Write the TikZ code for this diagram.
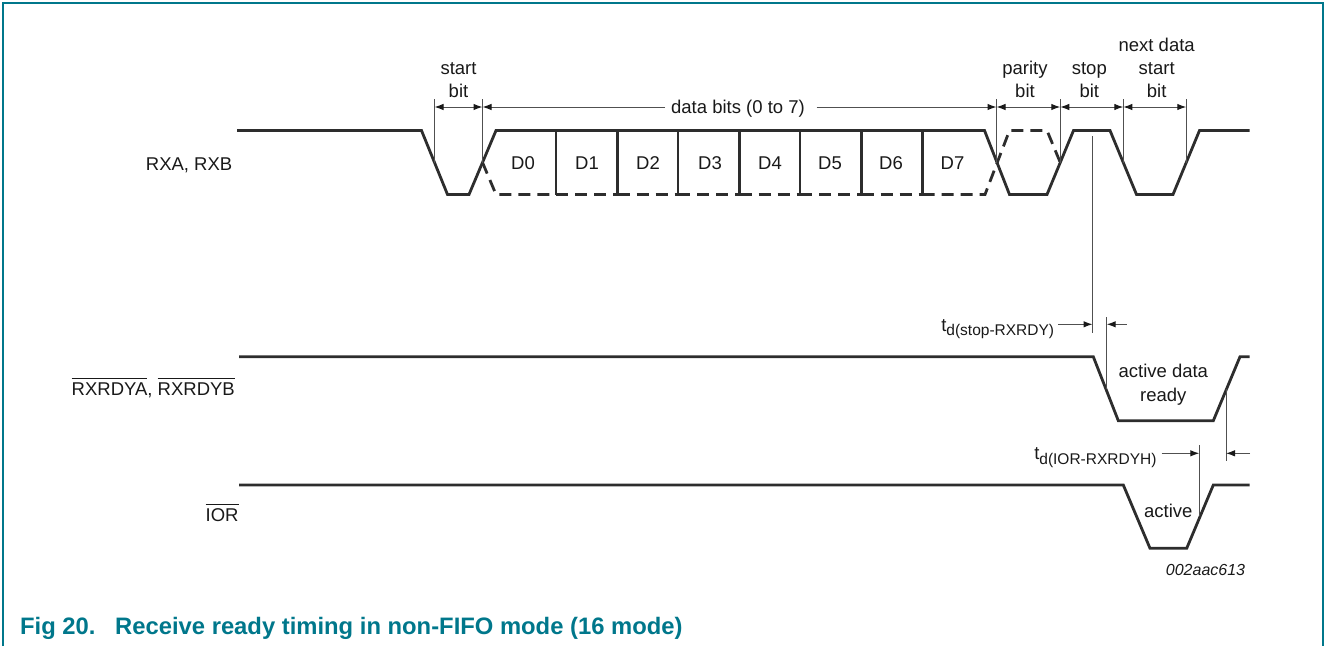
\documentclass[tikz,border=0pt]{standalone}
\usepackage{fontspec}
\setmainfont{Liberation Sans}
\usetikzlibrary{arrows.meta}
\definecolor{nxpteal}{RGB}{0,119,139}
\definecolor{wavecol}{RGB}{45,45,45}
\definecolor{tickcol}{RGB}{80,80,80}
\definecolor{textcol}{RGB}{25,25,25}
\newcommand{\myovl}[1]{\leavevmode\vbox{\hrule height 0.9pt\kern 3pt\hbox{#1}}}
\newcommand{\subfont}{\fontsize{15.5}{16}\selectfont}
\begin{document}
\begin{tikzpicture}[x=1pt,y=-1pt,
  wave/.style={line width=2.8pt, draw=wavecol, line join=miter},
  dwave/.style={wave, dash pattern=on 12pt off 7pt},
  tickline/.style={line width=1pt, draw=tickcol},
  tiparrow/.style={line width=1pt, draw=tickcol, -{Latex[length=9pt,width=6.5pt,color=textcol]}},
  dimarrow/.style={line width=1pt, draw=tickcol, {Latex[length=9pt,width=6.5pt,color=textcol]}-{Latex[length=9pt,width=6.5pt,color=textcol]}},
  lbl/.style={font=\fontsize{18.5}{22}\selectfont, inner sep=0pt, text=textcol, anchor=base},
  caption/.style={font=\fontsize{23.8}{28}\selectfont\bfseries, inner sep=0pt, text=nxpteal, anchor=base west},
  frameline/.style={line width=2pt, draw=nxpteal}
]
\useasboundingbox (0,0) rectangle (1325,646);
% frame
\draw[frameline] (2.5,646) -- (2.5,2.5) -- (1322.5,2.5) -- (1322.5,646);

% ---------- RXA, RXB ----------
\draw[wave] (237,130.5) -- (421.5,130.5) -- (447.5,194.5) -- (469,194.5) -- (496,130.5)
  -- (984.5,130.5) -- (1009.5,194.5) -- (1047,194.5) -- (1073.5,130.5) -- (1110,130.5)
  -- (1136.5,194.5) -- (1173,194.5) -- (1199.5,130.5) -- (1249.5,130.5);
% dashed complement
\draw[dwave] (482.5,162.5) -- (496,194.5) -- (556,194.5);
\draw[dwave] (556,194.5) -- (617.5,194.5);
\draw[dwave] (617.5,194.5) -- (678,194.5);
\draw[dwave] (678,194.5) -- (739.5,194.5);
\draw[dwave] (739.5,194.5) -- (800,194.5);
\draw[dwave] (800,194.5) -- (861.5,194.5);
\draw[dwave] (861.5,194.5) -- (922.5,194.5);
\draw[dwave] (922.5,194.5) -- (985,194.5) -- (1009.5,130.5) -- (1047,130.5) -- (1060.25,162.5);
% dividers
\foreach \x in {556,617.5,678,739.5,800,861.5,922.5}
  \draw[wave] (\x,130.5) -- (\x,194.5);
% data labels
\node[lbl] (d0) at (523,169.3) {D0};
\node[lbl] (d1) at (587,169.3) {D1};
\node[lbl] (d2) at (648,169.3) {D2};
\node[lbl] (d3) at (710,169.3) {D3};
\node[lbl] (d4) at (770,169.3) {D4};
\node[lbl] (d5) at (830,169.3) {D5};
\node[lbl] (d6) at (891,169.3) {D6};
\node[lbl] (d7) at (952.5,169.3) {D7};

% tick lines
\coordinate (tA) at (434.5,99);   \coordinate (tAb) at (434.5,162.5);
\coordinate (tB) at (482.5,99);   \coordinate (tBb) at (482.5,162.5);
\coordinate (tC) at (996.5,99);   \coordinate (tCb) at (996.5,162.5);
\coordinate (tD) at (1060.25,99); \coordinate (tDb) at (1060.25,162.5);
\coordinate (tE) at (1123.3,99);  \coordinate (tEb) at (1123.3,162.5);
\coordinate (tF) at (1186.25,99); \coordinate (tFb) at (1186.25,162.5);
\foreach \t in {A,B,C,D,E,F} \draw[tickline] (t\t) -- (t\t b);

% dimension arrows
\coordinate (aA) at (434.5,107); \coordinate (aB) at (482.5,107);
\coordinate (aC) at (996.5,107); \coordinate (aD) at (1060.25,107);
\coordinate (aE) at (1123.3,107); \coordinate (aF) at (1186.25,107);
\draw[dimarrow] (aA) -- (aB);
\draw[dimarrow] (aC) -- (aD);
\draw[dimarrow] (aD) -- (aE);
\draw[dimarrow] (aE) -- (aF);
\node[lbl] (dbits) at (738,113) {data bits (0 to 7)};
\coordinate (dbL) at (665,107); \coordinate (dbR) at (816.5,107);
\draw[tiparrow] (dbL) -- (aB);
\draw[tiparrow] (dbR) -- (aC);

% bit labels
\node[lbl] (sb1) at (458.5,74.3) {start};
\node[lbl] (sb2) at (458.5,97.3) {bit};
\node[lbl] (pb1) at (1025,74.3) {parity};
\node[lbl] (pb2) at (1025,97.3) {bit};
\node[lbl] (st1) at (1089.3,74.3) {stop};
\node[lbl] (st2) at (1089.3,97.3) {bit};
\node[lbl] (nd1) at (1156.7,51.5) {next data};
\node[lbl] (nd2) at (1156.7,74.5) {start};
\node[lbl] (nd3) at (1156.7,97.3) {bit};

% signal names
\node[lbl, anchor=base east] (rxa) at (232.5,170) {RXA, RXB};
\node[lbl, anchor=base east] (rxrdy) at (235,395) {\myovl{RXRDYA}, \myovl{RXRDYB}};
\node[lbl, anchor=base east] (ior) at (238.7,521) {\myovl{IOR}};

% stop mid line
\coordinate (stopT) at (1092.5,136); \coordinate (stopB) at (1092.5,333);
\draw[tickline] (stopT) -- (stopB);

% ---------- RXRDY ----------
\draw[wave] (239,356.7) -- (1093.3,356.7) -- (1118.3,420.7) -- (1213.3,420.7) -- (1240,356.7) -- (1249.5,356.7);
\node[lbl] (adr1) at (1163.3,377.7) {active data};
\node[lbl] (adr2) at (1163.3,401) {ready};

% td(stop-RXRDY)
\coordinate (rdyT) at (1106.7,317); \coordinate (rdyB) at (1106.7,388.7);
\draw[tickline] (rdyT) -- (rdyB);
\node[lbl, anchor=base east] (tdstop) at (1054.3,331) {t\raisebox{-4.5pt}{\subfont d(stop-RXRDY)}};
\coordinate (s1) at (1058.3,324.3); \coordinate (s2) at (1092.5,324.3);
\coordinate (s3) at (1126.7,324.3); \coordinate (s4) at (1106.7,324.3);
\draw[tiparrow] (s1) -- (s2);
\draw[tiparrow] (s3) -- (s4);

% ---------- IOR ----------
\draw[wave] (239,485) -- (1123.3,485) -- (1150,548.3) -- (1186.7,548.3) -- (1213.3,485) -- (1249.5,485);
\node[lbl] (act) at (1168.3,517.5) {active};

% td(IOR-RXRDYH)
\coordinate (iorT) at (1199.3,445); \coordinate (iorB) at (1199.3,516);
\draw[tickline] (iorT) -- (iorB);
\coordinate (rdhT) at (1226,388.7); \coordinate (rdhB) at (1226,460.7);
\draw[tickline] (rdhT) -- (rdhB);
\node[lbl, anchor=base east] (tdior) at (1156.7,459.5) {t\raisebox{-4.5pt}{\subfont d(IOR-RXRDYH)}};
\coordinate (i1) at (1161.7,453.3); \coordinate (i2) at (1199.3,453.3);
\coordinate (i3) at (1250,453.3); \coordinate (i4) at (1226,453.3);
\draw[tiparrow] (i1) -- (i2);
\draw[tiparrow] (i3) -- (i4);

% id
\node[lbl, font=\fontsize{16}{18}\selectfont\itshape] (fid) at (1205.5,575) {002aac613};

% caption
\node[caption] (cap1) at (20,634.5) {Fig 20.};
\node[caption] (cap2) at (115,634.5) {Receive ready timing in non-FIFO mode (16 mode)};
\end{tikzpicture}
\end{document}
